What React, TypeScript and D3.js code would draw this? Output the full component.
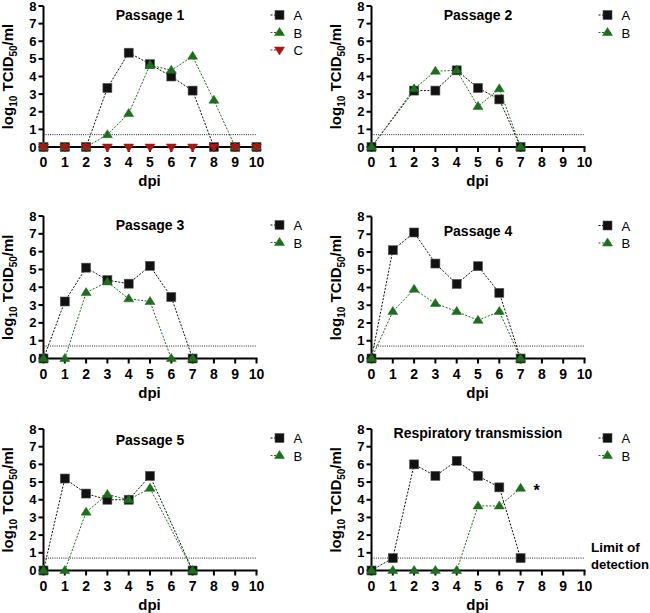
import React from "react";
import * as d3 from "d3";

const xTicks = [0, 1, 2, 3, 4, 5, 6, 7, 8, 9, 10];
const yTicks = [0, 1, 2, 3, 4, 5, 6, 7, 8];
const limitOfDetection = 0.7;

const titles = ["Passage 1", "Passage 2", "Passage 3", "Passage 4", "Passage 5", "Respiratory transmission"];

const p1Days = [0, 1, 2, 3, 4, 5, 6, 7, 8, 9, 10];
const p1A = [0, 0, 0, 3.35, 5.35, 4.7, 4.0, 3.2, 0, 0, 0];
const p1B = [0, 0, 0, 0.7, 1.9, 4.65, 4.35, 5.15, 2.65, 0, 0];
const p1C = [0, 0, 0, 0, 0, 0, 0, 0, 0, 0, 0];

const p2Days = [0, 2, 3, 4, 5, 6, 7];
const p2A = [0, 3.2, 3.2, 4.35, 3.35, 2.7, 0];
const p2B = [0, 3.3, 4.3, 4.35, 2.3, 3.3, 0];

const p3Days = [0, 1, 2, 3, 4, 5, 6, 7];
const p3A = [0, 3.2, 5.1, 4.4, 4.2, 5.2, 3.45, 0];
const p3B = [0, 0, 3.7, 4.3, 3.35, 3.2, 0, 0];

const p4Days = [0, 1, 2, 3, 4, 5, 6, 7];
const p4A = [0, 6.1, 7.1, 5.35, 4.2, 5.2, 3.7, 0];
const p4B = [0, 2.65, 3.9, 3.1, 2.65, 2.15, 2.65, 0];

const p5Days = [0, 1, 2, 3, 4, 5, 7];
const p5A = [0, 5.2, 4.35, 4.0, 4.0, 5.35, 0];
const p5B = [0, 0, 3.3, 4.3, 4.0, 4.65, 0];

const p6Days = [0, 1, 2, 3, 4, 5, 6, 7];
const p6A = [0, 0.7, 6.0, 5.35, 6.2, 5.35, 4.7, 0.7];
const p6B = [0, 0, 0, 0, 0, 3.65, 3.65, 4.65];

const seriesNames = ["A", "B", "C"];
const COLORS = ["#111111", "#1d6e1d", "#a81616"];
const SHAPES = ["square", "triangle", "triangleDown"];

type Series = { name: string; days: number[]; values: number[]; idx: number };
type PanelDef = { title: string; series: Series[]; box: [number, number, number, number] };

const mk = (days: number[], arrs: number[][]): Series[] =>
  arrs.map((v, i) => ({ name: seriesNames[i], days, values: v, idx: i }));

const panels: PanelDef[] = [
  { title: titles[0], series: mk(p1Days, [p1A, p1B, p1C]), box: [43.5, 256.5, 6, 147] },
  { title: titles[1], series: mk(p2Days, [p2A, p2B]), box: [371.5, 584.5, 6, 147] },
  { title: titles[2], series: mk(p3Days, [p3A, p3B]), box: [43.5, 256.5, 216, 358.5] },
  { title: titles[3], series: mk(p4Days, [p4A, p4B]), box: [371.5, 584.5, 216.5, 358.5] },
  { title: titles[4], series: mk(p5Days, [p5A, p5B]), box: [43.5, 256.5, 429, 570.5] },
  { title: titles[5], series: mk(p6Days, [p6A, p6B]), box: [371.5, 584.5, 429, 570.5] },
];

const FONT = "'Liberation Sans', Arial, sans-serif";

function Marker({ shape, x, y, color }: { shape: string; x: number; y: number; color: string }) {
  if (shape === "square") {
    return <rect x={x - 4.5} y={y - 4.5} width={9} height={9} fill={color} stroke="#555" strokeWidth={0.6} />;
  }
  const h = 8, w = 10;
  const pts =
    shape === "triangle"
      ? `${x},${y - h / 2 - 1} ${x - w / 2},${y + h / 2 - 1} ${x + w / 2},${y + h / 2 - 1}`
      : `${x},${y + h / 2 + 1} ${x - w / 2},${y - h / 2 + 1} ${x + w / 2},${y - h / 2 + 1}`;
  return <polygon points={pts} fill={color} stroke={color} strokeWidth={0.5} />;
}

function Panel({ p, pi }: { p: PanelDef; pi: number }) {
  const [x0, x1, yT, yB] = p.box;
  const x = d3.scaleLinear().domain([0, 10]).range([x0, x1]);
  const y = d3.scaleLinear().domain([0, 8]).range([yB, yT]);
  const line = d3
    .line<[number, number]>()
    .x((d) => x(d[0]))
    .y((d) => y(d[1]));
  const midX = (x0 + x1) / 2;
  const titleY = pi < 2 ? yT + 14 : pi < 4 ? yT + (pi === 3 ? 19 : 14) : yT + (pi === 5 ? 9 : 16);
  const legX = x1 + 14;
  const legY0 = yT + 9;
  return (
    <g>
      {/* limit of detection */}
      <line x1={x(0)} x2={x(10)} y1={y(limitOfDetection)} y2={y(limitOfDetection)} stroke="#222" strokeWidth={1} strokeDasharray="1,1.2" />
      {/* series lines */}
      {p.series.map((s) => (
        <path
          key={"l" + s.name}
          d={line(s.days.map((d, i) => [d, s.values[i]] as [number, number])) || ""}
          fill="none"
          stroke={COLORS[s.idx]}
          strokeWidth={1}
          strokeDasharray="2,1.5"
        />
      ))}
      {/* axes */}
      <line x1={x0} x2={x1 + 1} y1={yB} y2={yB} stroke="#000" strokeWidth={2} />
      <line x1={x0} x2={x0} y1={yT} y2={yB + 1} stroke="#000" strokeWidth={2} />
      {xTicks.map((t) => (
        <g key={"xt" + t}>
          <line x1={x(t)} x2={x(t)} y1={yB} y2={yB + 5} stroke="#000" strokeWidth={2} />
          <text x={x(t)} y={yB + 20} textAnchor="middle" fontFamily={FONT} fontWeight="bold" fontSize={14}>
            {t}
          </text>
        </g>
      ))}
      {yTicks.map((t) => (
        <g key={"yt" + t}>
          <line x1={x0 - 5} x2={x0} y1={y(t)} y2={y(t)} stroke="#000" strokeWidth={2} />
          <text x={x0 - 7} y={y(t) + 4.5} textAnchor="end" fontFamily={FONT} fontWeight="bold" fontSize={13}>
            {t}
          </text>
        </g>
      ))}
      {/* markers */}
      {p.series.map((s) => (
        <g key={"m" + s.name}>
          {s.days.map((d, i) => (
            <Marker key={i} shape={SHAPES[s.idx]} x={x(d)} y={y(s.values[i])} color={COLORS[s.idx]} />
          ))}
        </g>
      ))}
      {/* title */}
      <text x={midX} y={titleY} textAnchor="middle" fontFamily={FONT} fontWeight="bold" fontSize={14}>
        {p.title}
      </text>
      {/* x label */}
      <text x={midX - 0.5} y={yB + 39} textAnchor="middle" fontFamily={FONT} fontWeight="bold" fontSize={15}>
        dpi
      </text>
      {/* y label */}
      <text
        transform={`translate(${x0 - 31},${(yT + yB) / 2}) rotate(-90)`}
        textAnchor="middle"
        fontFamily={FONT}
        fontWeight="bold"
        fontSize={15}
      >
        log<tspan fontSize={10} dy={4}>10</tspan>
        <tspan dy={-4}> TCID</tspan>
        <tspan fontSize={10} dy={4}>50</tspan>
        <tspan dy={-4}>/ml</tspan>
      </text>
      {/* legend */}
      {p.series.map((s, i) => (
        <g key={"lg" + s.name}>
          <line x1={legX} x2={legX + 14} y1={legY0 + i * 17.5} y2={legY0 + i * 17.5} stroke={COLORS[s.idx]} strokeWidth={1} strokeDasharray="2,1.5" />
          <Marker shape={SHAPES[s.idx]} x={legX + 9} y={legY0 + i * 17.5} color={COLORS[s.idx]} />
          <text x={legX + 23} y={legY0 + i * 17.5 + 5} fontFamily={FONT} fontSize={13}>
            {s.name}
          </text>
        </g>
      ))}
    </g>
  );
}

export default function App() {
  const p6 = panels[5];
  const x6 = d3.scaleLinear().domain([0, 10]).range([p6.box[0], p6.box[1]]);
  const y6 = d3.scaleLinear().domain([0, 8]).range([p6.box[3], p6.box[2]]);
  return (
    <svg width={650} height={613} style={{ position: "absolute", left: 0, top: 0, background: "#fff" }}>
      <rect width={650} height={613} fill="#fff" />
      {panels.map((p, i) => (
        <Panel key={i} p={p} pi={i} />
      ))}
      <text x={x6(7.75)} y={y6(4.65) + 8} textAnchor="middle" fontFamily={FONT} fontWeight="bold" fontSize={16}>
        *
      </text>
      <text x={591} y={y6(limitOfDetection) - 6} fontFamily={FONT} fontWeight="bold" fontSize={13.5}>
        Limit of
      </text>
      <text x={591} y={y6(limitOfDetection) + 11} fontFamily={FONT} fontWeight="bold" fontSize={13} textLength={58} lengthAdjust="spacingAndGlyphs">
        detection
      </text>
    </svg>
  );
}
